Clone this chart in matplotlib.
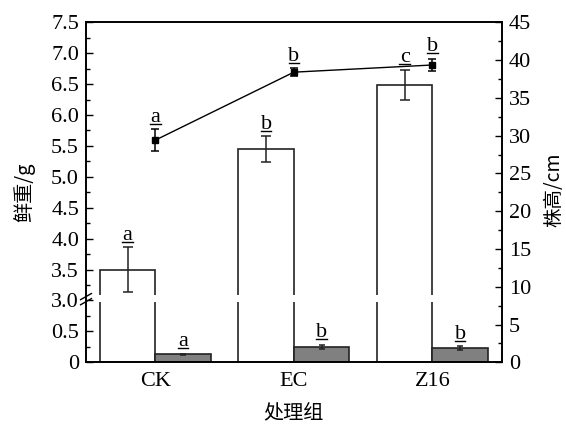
import matplotlib
matplotlib.use("Agg")
import matplotlib.pyplot as plt
import matplotlib.transforms as mtransforms
import numpy as np

groups = ["CK", "EC", "Z16"]

# fresh weight (g), left axis
fresh = [3.50, 5.45, 6.49]
fresh_err = [0.36, 0.21, 0.24]
fresh_sig = ["a", "b", "c"]

# dry weight (g), left axis
dry = [0.13, 0.25, 0.23]
dry_err = [0.01, 0.03, 0.03]
dry_sig = ["a", "b", "b"]

# plant height (cm), right axis
height = [29.4, 38.4, 39.35]
height_err = [1.45, 0.5, 0.8]
height_sig = ["a", "b", "b"]

left_ticks = [0, 0.5, 3.0, 3.5, 4.0, 4.5, 5.0, 5.5, 6.0, 6.5, 7.0, 7.5]
left_ticklabels = ["0", "0.5", "3.0", "3.5", "4.0", "4.5", "5.0", "5.5",
                   "6.0", "6.5", "7.0", "7.5"]

BREAK_LO, BREAK_HI = 1.0, 3.0


def brk(v):
    # collapse the 1.0-3.0 gap of the broken left axis
    v = np.asarray(v, dtype=float)
    return np.where(v <= BREAK_LO, v, v - (BREAK_HI - BREAK_LO))


plt.rcParams["font.family"] = ["Liberation Serif", "DejaVu Serif"]
plt.rcParams["font.size"] = 16
cjk = ["Noto Sans CJK SC", "DejaVu Sans"]

fig = plt.figure(figsize=(5.66, 4.25), dpi=100)
ax = fig.add_axes([86 / 566, 1 - 362.3 / 425, (501.7 - 86) / 566, 340 / 425])
ax2 = ax.twinx()

x = np.arange(len(groups))
w = 0.4
edge = "#222222"

ax.bar(x - w / 2, brk(fresh), width=w, color="white", edgecolor=edge, linewidth=1.2, zorder=2)
ax.bar(x + w / 2, brk(dry), width=w, color="#808080", edgecolor=edge, linewidth=1.2, zorder=2)
ax.errorbar(x - w / 2, brk(fresh), yerr=fresh_err, fmt="none", ecolor=edge,
            elinewidth=1.1, capsize=3.5, capthick=1.1, zorder=3)
ax.errorbar(x + w / 2, brk(dry), yerr=dry_err, fmt="none", ecolor=edge,
            elinewidth=1.1, capsize=2.5, capthick=1.1, zorder=3)

# gap in the white bars where the axis is broken
for xi in x - w / 2:
    ax.add_patch(plt.Rectangle((xi - w / 2 - 0.01, 0.975), w + 0.02, 0.11,
                               facecolor="white", edgecolor="none", zorder=4))

ax2.errorbar(x, height, yerr=height_err, fmt="-s", color="black", ms=5, lw=1.0,
             elinewidth=1.1, capsize=3, capthick=1.1, zorder=3)


def sig_label(axis, xs, tops, letters):
    line_off = mtransforms.ScaledTranslation(0, 5.5 / 100, fig.dpi_scale_trans)
    text_off = mtransforms.ScaledTranslation(0, 7.5 / 100, fig.dpi_scale_trans)
    for xi, top, s in zip(xs, tops, letters):
        axis.plot([xi - 0.038, xi + 0.038], [top, top], color="black", lw=1.0,
                  transform=axis.transData + line_off, clip_on=False, zorder=5)
        axis.text(xi, top, s, ha="center", va="baseline", fontsize=16,
                  transform=axis.transData + text_off, zorder=5)


sig_label(ax, x - w / 2, brk(fresh) + np.array(fresh_err), fresh_sig)
sig_label(ax, x + w / 2, brk(dry) + np.array(dry_err), dry_sig)
sig_label(ax2, x, np.array(height) + np.array(height_err), height_sig)

ax.set_xlim(-0.5, 2.5)
ax.set_ylim(0, 5.5)
ax2.set_ylim(0, 45)

ax.set_xticks(x)
ax.set_xticklabels(groups)
ax.set_yticks(brk(left_ticks))
ax.set_yticklabels(left_ticklabels)
ax.set_yticks(np.arange(0.25, 5.5, 0.5), minor=True)
ax2.set_yticks(np.arange(0, 46, 5))
ax2.set_yticks(np.arange(2.5, 45, 5), minor=True)

ax.tick_params(axis="x", length=0, pad=7)
ax.tick_params(axis="y", which="major", direction="in", length=5, width=1, pad=5)
ax.tick_params(axis="y", which="minor", direction="in", length=3, width=1)
ax2.tick_params(axis="y", which="major", direction="in", length=5, width=1, pad=5)
ax2.tick_params(axis="y", which="minor", direction="in", length=3, width=1)

for a in (ax, ax2):
    for sp in a.spines.values():
        sp.set_linewidth(1.2)
        sp.set_color("black")

# break marks on the left spine
yb = (1.0 + 0.03) / 5.5
for dy in (-0.009, 0.006):
    ax.plot([-0.013, 0.013], [yb + dy - 0.009, yb + dy + 0.009], color="black",
            lw=1.0, transform=ax.transAxes, clip_on=False, zorder=6)

fig.text(24 / 566, 1 - 192 / 425, "鲜重/g", rotation=90, ha="center", va="center",
         family=cjk, fontsize=14.5)
fig.text(554 / 566, 1 - 190 / 425, "株高/cm", rotation=90, ha="center", va="center",
         family=cjk, fontsize=14)
fig.text(294 / 566, 1 - 413 / 425, "处理组", ha="center", va="center",
         family=cjk, fontsize=14.5)

fig.savefig("out.png", dpi=100)
